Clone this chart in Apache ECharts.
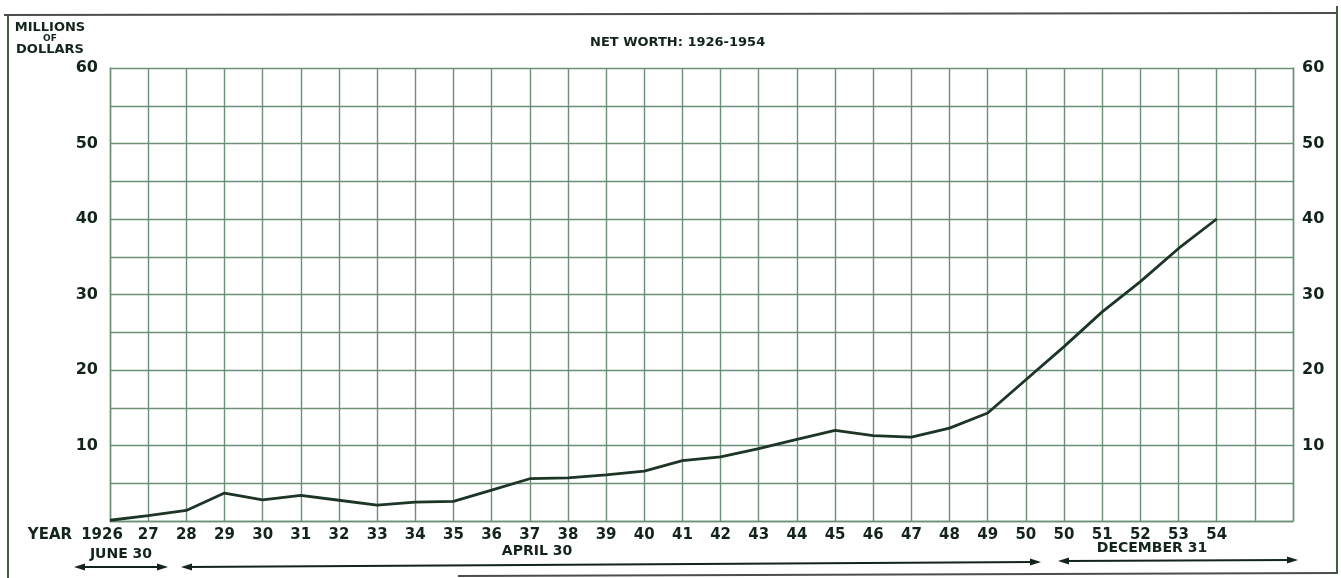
<!DOCTYPE html>
<html>
<head>
<meta charset="utf-8">
<script src="https://cdn.jsdelivr.net/npm/echarts@6/dist/echarts.min.js"></script>
<style>
html,body{margin:0;padding:0;background:#fff;}
#chart{width:1341px;height:578px;}
</style>
</head>
<body>
<div id="chart"></div>
<script>
// Year tick labels (x positions 0..31)
var yearLabels = ['1926','27','28','29','30','31','32','33','34','35','36','37','38','39','40',
  '41','42','43','44','45','46','47','48','49','50','50','51','52','53','54','',''];
// Net worth, millions of dollars
var netWorth = [0.1, 0.7, 1.4, 3.7, 2.8, 3.4, 2.75, 2.1, 2.5, 2.6, 4.1, 5.6, 5.7, 6.1, 6.6,
  8.0, 8.5, 9.6, 10.8, 12.0, 11.3, 11.1, 12.3, 14.3, 18.7, 23.1, 27.7, 31.7, 36.1, 40.0];
var yTicks = [10, 20, 30, 40, 50, 60];
var periodLabels = ['JUNE 30', 'APRIL 30', 'DECEMBER 31'];

var ink = '#13241a';
var gridColor = '#6c9077';
var font = 'DejaVu Sans';

var chart = echarts.init(document.getElementById('chart'));

function arrow(x1, y1, x2, y2) {
  var els = [];
  els.push({type:'line', shape:{x1:x1+6,y1:y1,x2:x2-6,y2:y2}, style:{stroke:ink,lineWidth:2}});
  els.push({type:'polygon', shape:{points:[[x1,y1],[x1+11,y1-3.5],[x1+11,y1+3.5]]}, style:{fill:ink}});
  els.push({type:'polygon', shape:{points:[[x2,y2],[x2-11,y2-3.5],[x2-11,y2+3.5]]}, style:{fill:ink}});
  return els;
}

var txtStyle = function(text, x, y, size, align) {
  return {type:'text', x:x, y:y, style:{text:text, fill:ink, font:'bold ' + size + 'px "' + font + '"', align:align||'center', verticalAlign:'middle'}};
};

var graphics = [
  {type:'line', shape:{x1:8,y1:14,x2:8,y2:578}, style:{stroke:'#3f5f47',lineWidth:2}},
  {type:'line', shape:{x1:4,y1:15,x2:1338,y2:13}, style:{stroke:'#4a4f4a',lineWidth:2}},
  {type:'line', shape:{x1:1337,y1:6,x2:1337,y2:574}, style:{stroke:'#3f5f47',lineWidth:2}},
  {type:'line', shape:{x1:458,y1:576,x2:1337,y2:573}, style:{stroke:'#4a4f4a',lineWidth:2}},
  txtStyle('MILLIONS', 50, 28, 13),
  txtStyle('OF', 50, 39, 9),
  txtStyle('DOLLARS', 50, 50, 13),
  txtStyle('NET WORTH: 1926-1954', 590, 43, 13, 'left'),
  txtStyle('YEAR', 50, 535, 15),
  txtStyle(periodLabels[0], 121, 554, 14),
  txtStyle(periodLabels[1], 537, 551, 14),
  txtStyle(periodLabels[2], 1152, 548, 14)
].concat(arrow(74, 567, 168, 567))
 .concat(arrow(181, 567, 1041, 562))
 .concat(arrow(1058, 561, 1298, 560));

chart.setOption({
  animation: false,
  backgroundColor: '#ffffff',
  grid: {left: 110, right: 48, top: 68, bottom: 57, containLabel: false},
  xAxis: {
    type: 'value', min: 0, max: 31, interval: 1,
    axisLine: {show: true, lineStyle: {color: gridColor, width: 1.4}},
    axisTick: {show: false},
    splitLine: {show: true, lineStyle: {color: gridColor, width: 1.4}},
    axisLabel: {
      margin: 7, color: ink, fontFamily: font, fontWeight: 'bold', fontSize: 15,
      formatter: function (v) {
        var t = yearLabels[v] || '';
        return v === 0 ? '{first|' + t + '}' : t;
      },
      rich: {first: {padding: [0, 16, 0, 0], color: ink, fontFamily: font, fontWeight: 'bold', fontSize: 15}}
    }
  },
  yAxis: [{
    type: 'value', min: 0, max: 60, interval: 5, position: 'left',
    axisLine: {show: true, lineStyle: {color: gridColor, width: 1.4}},
    axisTick: {show: false},
    splitLine: {show: true, lineStyle: {color: gridColor, width: 1.4}},
    axisLabel: {
      margin: 12, color: ink, fontFamily: font, fontWeight: 'bold', fontSize: 16,
      formatter: function (v) { return yTicks.indexOf(v) >= 0 ? String(v) : ''; }
    }
  }, {
    type: 'value', min: 0, max: 60, interval: 5, position: 'right',
    axisLine: {show: true, lineStyle: {color: gridColor, width: 1.4}},
    axisTick: {show: false},
    splitLine: {show: false},
    axisLabel: {
      margin: 9, color: ink, fontFamily: font, fontWeight: 'bold', fontSize: 16,
      formatter: function (v) { return yTicks.indexOf(v) >= 0 ? String(v) : ''; }
    }
  }],
  series: [{
    type: 'line',
    data: netWorth.map(function (v, i) { return [i, v]; }),
    showSymbol: false,
    lineStyle: {color: '#1c3527', width: 2.8},
    z: 5
  }],
  graphic: graphics
});
</script>
</body>
</html>
